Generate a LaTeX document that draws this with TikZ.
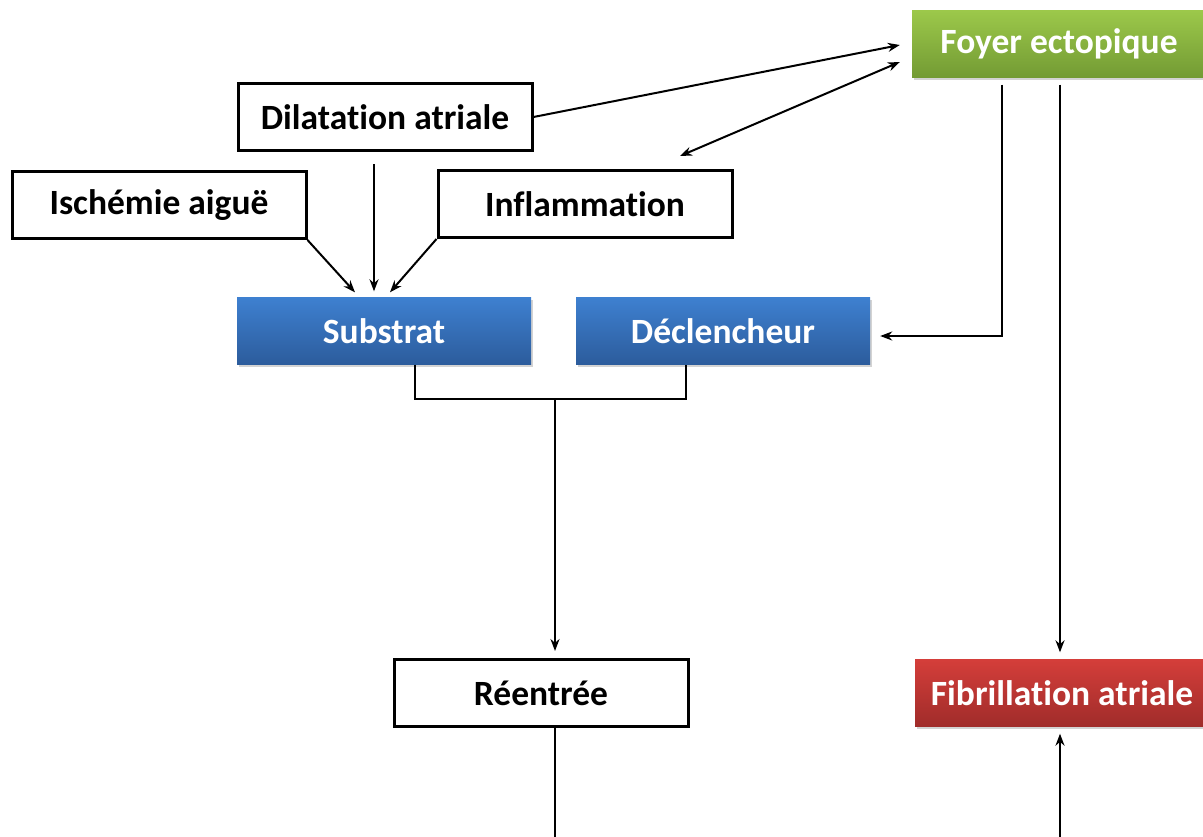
\documentclass[tikz,border=0pt]{standalone}
\usepackage{fontspec}
\setmainfont{Carlito}[Ligatures=NoCommon]
\usetikzlibrary{arrows.meta,calc,shadows}
\begin{document}
\begin{tikzpicture}[x=1pt,y=-1pt,
  every node/.style={font=\fontsize{35.5}{38}\selectfont\bfseries, inner sep=0pt, minimum width=294pt, minimum height=67pt},
  wbox/.style={draw=black, line width=3pt, fill=white},
  cbox/.style={text=white, drop shadow={shadow xshift=1.5pt, shadow yshift=-2pt, opacity=0.35}},
  bluebox/.style={cbox, top color=blue1, bottom color=blue2},
  greenbox/.style={cbox, top color=green1, bottom color=green2},
  redbox/.style={cbox, top color=red1, bottom color=red2},
  arr/.style={-{Stealth[length=12pt,width=9pt]}, line width=2pt},
  ln/.style={line width=2pt}
]
\definecolor{blue1}{HTML}{3E80D0}
\definecolor{blue2}{HTML}{2C5C9C}
\definecolor{green1}{HTML}{9CC84A}
\definecolor{green2}{HTML}{739B34}
\definecolor{red1}{HTML}{D43E3A}
\definecolor{red2}{HTML}{A02C2A}
\useasboundingbox (0,0) rectangle (1203,836);

\node[greenbox] (foyer) at (1059,44) {Foyer ectopique};
\node[wbox] (dil) at (385,117) {Dilatation atriale};
\node[wbox] (isch) at (159,205) {Isch\'emie aigu\"e};
\node[wbox] (infl) at (585,204) {Inflammation};
\node[bluebox] (sub) at (384,331) {Substrat};
\node[bluebox] (dec) at (723,331) {D\'eclencheur};
\node[wbox] (reen) at (541,693) {R\'eentr\'ee};
\node[redbox] (fib) at (1062,693) {Fibrillation atriale};

\coordinate (bot1) at (555,840);
\coordinate (bot2) at (1060,840);

% links to foyer
\draw[arr] (dil.east) -- ($(foyer.west)+(-12,1)$);
\draw[arr, {Stealth[length=12pt,width=9pt]}-{Stealth[length=12pt,width=9pt]}] ($(infl.north)+(95,-13)$) -- ($(foyer.west)+(-12,18)$);

% into substrat
\draw[arr] (isch.south east) -- ($(sub.north)+(-29,-5)$);
\draw[arr] ($(dil.south)+(-11,12)$) -- ($(sub.north)+(-10,-6)$);
\draw[arr] (infl.south west) -- ($(sub.north)+(6,-5)$);

% foyer -> declencheur, fibrillation
\draw[arr] ($(foyer.south)+(-57,7)$) |- ($(dec.east)+(10,5)$);
\draw[arr] ($(foyer.south)+(1,7)$) -- ($(fib.north)+(-2,-7)$);

% substrat + declencheur -> reentree
\draw[ln] ($(sub.south)+(31,0)$) -- ++(0,34) coordinate (j1) -| ($(dec.south)+(-37,0)$);
\draw[arr] (j1 -| reen.north) ++(14,0) -- ($(reen.north)+(14,-7)$);

% bottom
\draw[ln] ($(reen.south)+(14,0)$) -- (bot1);
\draw[arr] (bot2) -- ($(fib.south)+(-2,7)$);
\end{tikzpicture}
\end{document}
